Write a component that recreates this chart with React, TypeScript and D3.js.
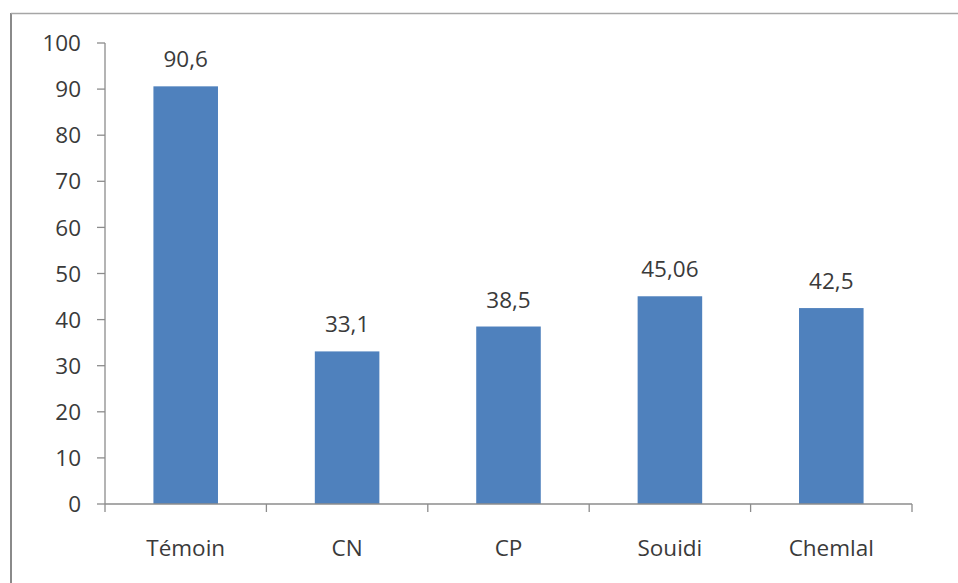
import React from "react";
import * as d3 from "d3";

const categories = ["Témoin", "CN", "CP", "Souidi", "Chemlal"];
const values = [90.6, 33.1, 38.5, 45.06, 42.5];
const valueLabels = ["90,6", "33,1", "38,5", "45,06", "42,5"];
const yTicks = [0, 10, 20, 30, 40, 50, 60, 70, 80, 90, 100];

const W = 958;
const H = 583;
const left = 105;
const right = 912;
const top = 43;
const bottom = 504;
const FONT = "'Open Sans', 'Liberation Sans', sans-serif";
const FS = 22.5;
const TEXT = "#3a3a3a";
const AXIS = "#8c8c8c";

export default function App() {
  const x = d3.scaleBand<string>().domain(categories).range([left, right]).padding(0);
  const y = d3.scaleLinear().domain([0, 100]).range([bottom, top]);
  const bw = x.bandwidth() * 0.4;
  const tickXs = categories.map((c) => x(c) as number).concat([right]);

  return (
    <svg
      width={W}
      height={H}
      style={{ position: "absolute", left: 0, top: 0, background: "#fff" }}
    >
      <rect x={0} y={0} width={W} height={H} fill="#fff" />
      {/* outer frame */}
      <line x1={11} x2={11} y1={13} y2={H} stroke="#8a8a8a" strokeWidth={2} />
      <line x1={11} x2={W} y1={13.5} y2={13.5} stroke="#a6a6a6" strokeWidth={1.5} />

      {/* bars */}
      {categories.map((c, i) => {
        const cx = (x(c) as number) + x.bandwidth() / 2;
        return (
          <g key={c}>
            <rect
              x={cx - bw / 2}
              y={y(values[i])}
              width={bw}
              height={bottom - y(values[i])}
              fill="#4f81bd"
            />
            <text
              x={cx}
              y={y(values[i]) - 19}
              textAnchor="middle"
              fontFamily={FONT}
              fontSize={FS}
              fill={TEXT}
            >
              {valueLabels[i]}
            </text>
            <text
              x={cx}
              y={556}
              textAnchor="middle"
              fontFamily={FONT}
              fontSize={FS}
              fill={TEXT}
            >
              {c}
            </text>
          </g>
        );
      })}

      {/* y axis */}
      <line x1={left} x2={left} y1={top} y2={bottom} stroke={AXIS} strokeWidth={1.3} />
      {yTicks.map((t) => (
        <g key={t}>
          <line x1={left - 8} x2={left} y1={y(t)} y2={y(t)} stroke={AXIS} strokeWidth={1.3} />
          <text
            x={left - 24}
            y={y(t)}
            dy="0.36em"
            textAnchor="end"
            fontFamily={FONT}
            fontSize={FS}
            fill={TEXT}
          >
            {t}
          </text>
        </g>
      ))}

      {/* x axis */}
      <line x1={left} x2={right} y1={bottom} y2={bottom} stroke={AXIS} strokeWidth={1.3} />
      {tickXs.map((tx, i) => (
        <line key={i} x1={tx} x2={tx} y1={bottom} y2={bottom + 8} stroke={AXIS} strokeWidth={1.3} />
      ))}
    </svg>
  );
}
